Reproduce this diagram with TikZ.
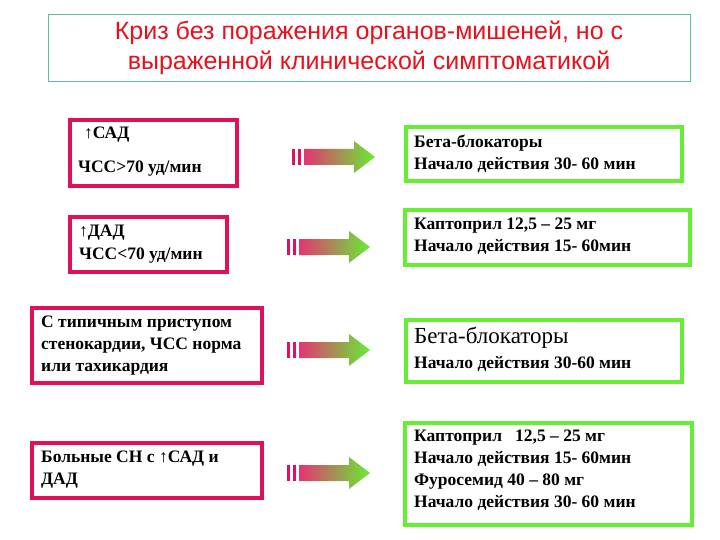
\documentclass[tikz,border=0pt]{standalone}
\usepackage{fontspec}
\setmainfont{Liberation Serif}
\newfontfamily\titlefont{Liberation Sans}
\definecolor{crim}{HTML}{E0105A}
\definecolor{grn}{HTML}{66EE33}
\definecolor{teal2}{HTML}{5CC0A8}
\definecolor{ttl}{HTML}{E8101C}
\begin{document}
\begin{tikzpicture}[x=1pt,y=-1pt,
  lbox/.style={draw=crim,line width=3.5pt},
  rbox/.style={draw=grn,line width=3.5pt},
  txt/.style={anchor=north west,align=left,font=\bfseries\fontsize{17.5}{22}\selectfont,inner sep=0pt},
  barr/.style={fill=crim,draw=none},
  arrshade/.style={left color=crim!85!white,right color=grn,draw=none}]
\useasboundingbox (0,0) rectangle (720,540);
\node[draw=teal2,line width=0.8pt,minimum width=642pt,minimum height=67pt,inner sep=0pt] (title) at (369,47.5) {};
\node[text=ttl,align=center,font=\titlefont\fontsize{25}{30}\selectfont] (tt) at (title) {Криз без поражения органов-мишеней, но с\\выраженной клинической симптоматикой};
% left boxes
\draw[lbox] (70,120) rectangle (237,186);
\node[txt] (l1a) at (84,127) {↑САД};
\node[txt] (l1b) at (78,161) {ЧСС>70 уд/мин};
\draw[lbox] (70,217) rectangle (227,272);
\node[txt,font=\bfseries\fontsize{17.5}{23}\selectfont] (l2) at (79,225) {↑ДАД\\ЧСС<70 уд/мин};
\draw[lbox] (32,308) rectangle (262,383);
\node[txt] (l3) at (41,316) {С типичным приступом\\стенокардии, ЧСС норма\\или тахикардия};
\draw[lbox] (32,443) rectangle (262,498);
\node[txt] (l4) at (41,451) {Больные СН с ↑САД и\\ДАД};
% arrows
\foreach \yy/\xs/\nm in {157/292/a1,247/287/a2,350/287/a3,473/287/a4}{
  \fill[barr] (\xs,\yy-8) rectangle ++(3,16);
  \fill[barr] (\xs+6,\yy-8) rectangle ++(3,16);
  \coordinate (\nm) at (\xs+12,\yy);
  \shade[arrshade] (\nm) ++(0,-8) -- ++(50,0) -- ++(0,-8) -- ++(21,16) -- ++(-21,16) -- ++(0,-8) -- ++(-50,0) -- cycle;
}
% right boxes
\draw[rbox] (406,127) rectangle (682,181);
\node[txt] (r1) at (414,135) {Бета-блокаторы\\Начало действия 30- 60 мин};
\draw[rbox] (405,210) rectangle (690,265);
\node[txt] (r2) at (414,218) {Каптоприл 12,5 – 25 мг\\Начало действия 15- 60мин};
\draw[rbox] (406,320) rectangle (682,382);
\node[txt,font=\fontsize{23}{25}\selectfont] (r3a) at (414,327) {Бета-блокаторы};
\node[txt] (r3b) at (414,356) {Начало действия 30-60 мин};
\draw[rbox] (405,423) rectangle (692,525);
\node[txt] (r4) at (414,430) {Каптоприл~~~12,5 – 25 мг\\Начало действия 15- 60мин\\Фуросемид 40 – 80 мг\\Начало действия 30- 60 мин};
\end{tikzpicture}
\end{document}
